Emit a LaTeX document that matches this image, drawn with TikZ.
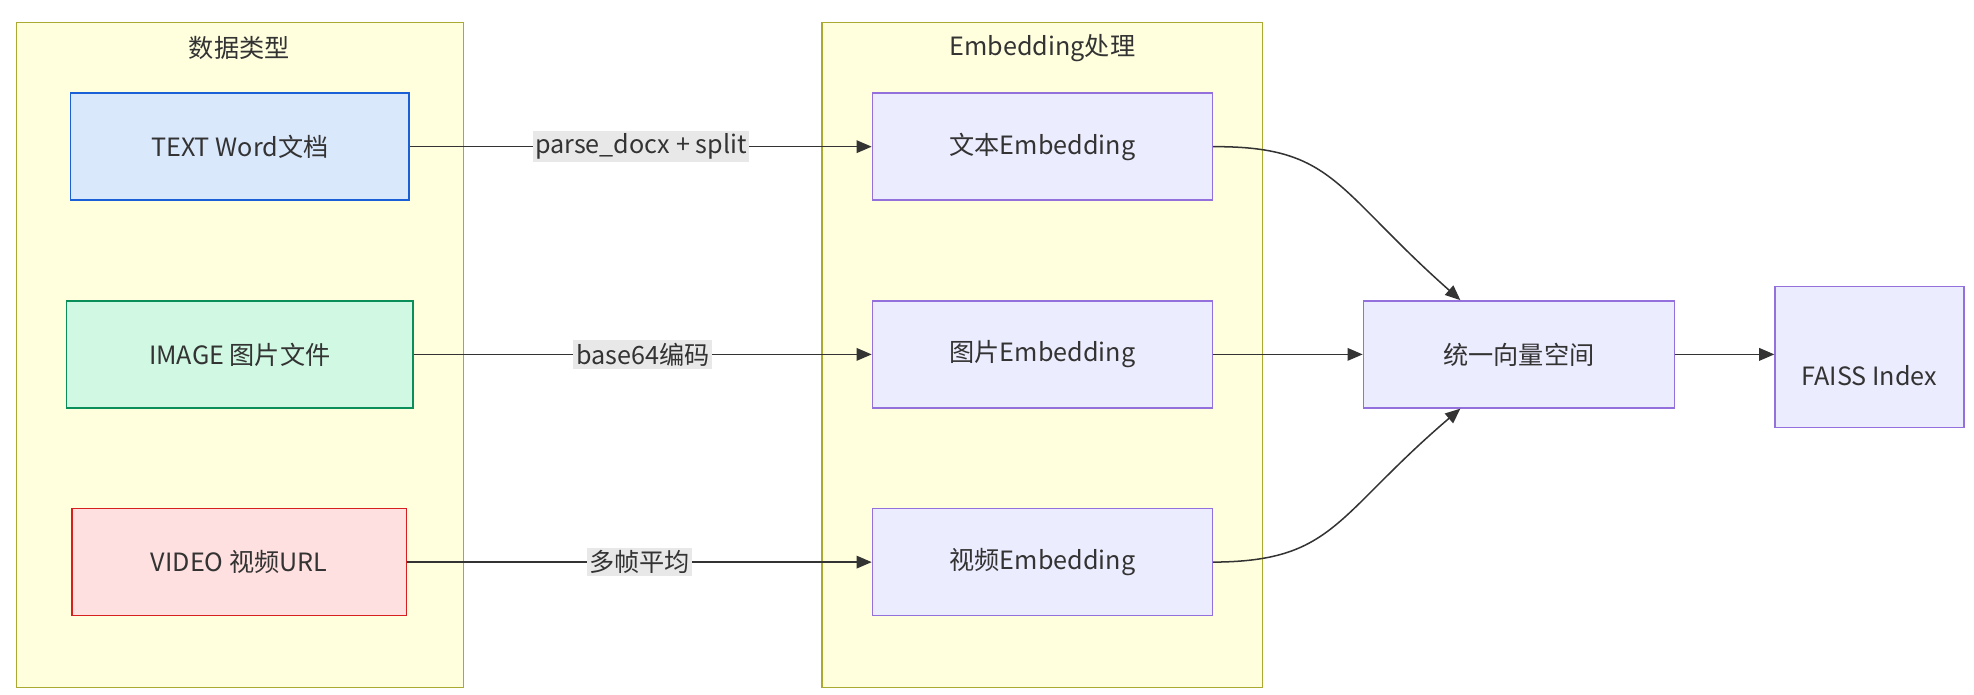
\documentclass[tikz,border=0pt]{standalone}
\usepackage{fontspec}
\setmainfont{Noto Sans CJK SC}
\usetikzlibrary{positioning,shapes.geometric,arrows.meta}
\definecolor{clusterfill}{HTML}{FFFFDE}
\definecolor{clusterdraw}{HTML}{AAAA33}
\definecolor{nodefill}{HTML}{ECECFF}
\definecolor{nodedraw}{HTML}{9370DB}
\definecolor{labelfill}{HTML}{E8E8E8}
\definecolor{linecol}{HTML}{333333}
\tikzset{every picture/.style={line width=0.6pt}}
\tikzset{
  box/.style={draw=nodedraw, fill=nodefill, minimum width=135pt, minimum height=42.5pt, inner sep=0pt, font=\fontsize{10}{12}\selectfont, text=linecol},
  cluster/.style={draw=clusterdraw, fill=clusterfill, inner sep=0pt},
  elabel/.style={fill=labelfill, inner sep=1pt, font=\fontsize{10}{12}\selectfont, text=linecol},
  link/.style={draw=linecol, -{Triangle[length=6pt,width=5pt]}},
}
\begin{document}
\begin{tikzpicture}[x=0.5pt,y=0.5pt,yscale=-1,xscale=1]
    \useasboundingbox (0,0) rectangle (1568,552);

    % clusters
    \node[cluster, minimum width=177.5pt, minimum height=264pt] (types) at (190.5,282) {};
    \node[cluster, minimum width=175pt, minimum height=264pt] (embed) at (828,282) {};
    \node[font=\fontsize{10}{12}\selectfont, text=linecol] (typestitle) at (190,38) {数据类型};
    \node[font=\fontsize{10}{12}\selectfont, text=linecol] (embedtitle) at (828,38) {Embedding处理};

    % sources
    \node[box, draw={rgb,255:red,26;green,95;blue,214}, fill={rgb,255:red,218;green,232;blue,252}, minimum width=134.5pt] (text) at (190.5,116.5) {TEXT Word文档};
    \node[box, draw={rgb,255:red,10;green,143;blue,90}, fill={rgb,255:red,208;green,248;blue,227}, minimum width=137.5pt] (image) at (190.5,281.5) {IMAGE 图片文件};
    \node[box, draw={rgb,255:red,214;green,32;blue,32}, fill={rgb,255:red,255;green,224;blue,224}, minimum width=133pt] (video) at (190,446.5) {VIDEO 视频URL};

    % embeddings
    \node[box] (textemb) at (828,116.5) {文本Embedding};
    \node[box] (imageemb) at (828,281.5) {图片Embedding};
    \node[box] (videoemb) at (828,446.5) {视频Embedding};

    \node[box, minimum width=123.5pt] (space) at (1206.5,281.5) {统一向量空间};
    \node[cylinder, shape border rotate=90, aspect=0.25, draw=nodedraw, fill=nodefill, minimum width=75pt, minimum height=56pt, inner sep=0pt, font=\fontsize{10}{12}\selectfont, text=linecol] (faiss) at (1485,284) {};
    \node[font=\fontsize{10}{12}\selectfont, text=linecol] (faisstext) at (1485,298) {FAISS Index};

    % links
    \draw[link] (text) -- node[elabel] {parse\_docx + split} (textemb);
    \draw[link] (image) -- node[elabel] {base64编码} (imageemb);
    \draw[link] (video) -- node[elabel] {多帧平均} (videoemb);
    \draw[link] (textemb.east) .. controls (1060,116) and (1060,150) .. (space.north -| 1160,0);
    \draw[link] (videoemb.east) .. controls (1060,446) and (1060,410) .. (space.south -| 1160,0);
    \draw[link] (imageemb) -- (space);
    \draw[link] (space) -- (faiss.west |- space);
\end{tikzpicture}
\end{document}
